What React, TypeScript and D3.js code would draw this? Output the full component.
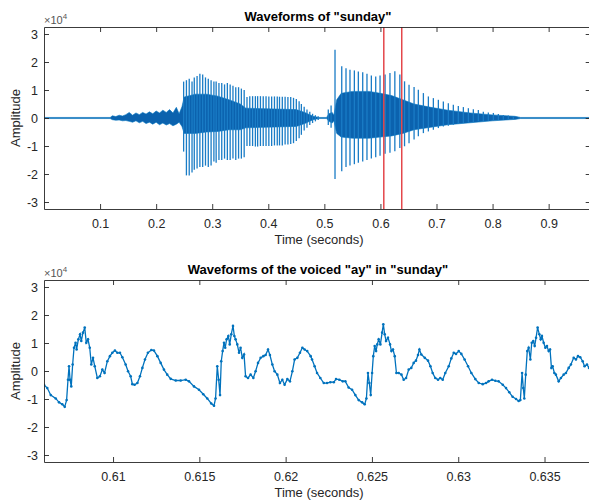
import React, { useRef, useEffect } from 'react';
import * as d3 from 'd3';

// amplitudes are in units of 1e4 (axis shows "x10^4")

// top plot: the dense recording, read as one peak-up / peak-down per glottal pulse
const pulseTime = [
  0.249, 0.254, 0.259, 0.264, 0.268, 0.273, 0.278, 0.283, 0.288, 0.293, 0.298, 0.303,
  0.307, 0.312, 0.317, 0.322, 0.327, 0.332, 0.337, 0.342, 0.347, 0.352, 0.357,
  0.362, 0.367, 0.372, 0.377, 0.381, 0.386, 0.391, 0.396, 0.401, 0.406, 0.411, 0.416,
  0.420, 0.425, 0.430, 0.435, 0.440, 0.445, 0.450, 0.455, 0.459, 0.464, 0.469, 0.474,
  0.479, 0.484, 0.489,
  0.507, 0.512, 0.519,
  0.531, 0.5386, 0.5457, 0.5535, 0.5606, 0.5684, 0.576, 0.5838, 0.5916, 0.5993, 0.6083,
  0.617, 0.6257, 0.6346, 0.643, 0.651, 0.66, 0.6676, 0.6766, 0.6855, 0.6944, 0.7033,
  0.7122, 0.7211, 0.73, 0.7389, 0.7479, 0.7568, 0.7657, 0.7746, 0.7835, 0.7924, 0.8014,
  0.8103, 0.8192, 0.8281, 0.837, 0.8459,
];
const pulseHigh = [
  1.3, 1.35, 1.4, 1.3, 1.45, 1.5, 1.58, 1.55, 1.45, 1.4, 1.35, 1.3,
  1.3, 1.25, 1.25, 1.2, 1.25, 1.2, 1.15, 1.1, 1.1, 1.05, 1.0,
  0.75, 0.78, 0.78, 0.78, 0.78, 0.78, 0.78, 0.78, 0.77, 0.77, 0.77, 0.77,
  0.76, 0.76, 0.76, 0.75, 0.75, 0.72, 0.68, 0.6, 0.5, 0.4, 0.3, 0.22,
  0.15, 0.1, 0.06,
  0.3, 0.45, 2.44,
  1.85, 1.78, 1.72, 1.7, 1.66, 1.63, 1.58, 1.52, 1.48, 1.52, 1.55,
  1.61, 1.67, 1.55, 1.31, 1.19, 1.11, 1.01, 0.89, 0.77, 0.71, 0.65,
  0.59, 0.53, 0.47, 0.43, 0.39, 0.35, 0.31, 0.29, 0.22, 0.2, 0.18,
  0.14, 0.11, 0.09, 0.06, 0.03,
];
const pulseLow = [
  -1.2, -2.05, -2.05, -1.95, -1.85, -1.8, -1.75, -1.75, -1.7, -1.75, -1.7, -1.55,
  -1.6, -1.5, -1.5, -1.45, -1.5, -1.5, -1.45, -1.5, -1.45, -1.45, -1.4,
  -1.0, -1.0, -1.0, -1.02, -1.02, -1.0, -1.0, -1.0, -1.0, -1.0, -0.98, -0.98,
  -0.98, -0.98, -0.95, -0.95, -0.93, -0.9, -0.82, -0.72, -0.6, -0.45, -0.35, -0.25,
  -0.18, -0.12, -0.07,
  -0.25, -0.35, -2.18,
  -1.9, -1.75, -1.7, -1.65, -1.6, -1.55, -1.5, -1.45, -1.4, -1.35, -1.28,
  -1.24, -1.19, -1.07, -1.01, -0.9, -0.77, -0.65, -0.54, -0.48, -0.42, -0.36,
  -0.3, -0.28, -0.24, -0.2, -0.18, -0.16, -0.14, -0.12, -0.11, -0.1, -0.08,
  -0.07, -0.06, -0.05, -0.04, -0.03,
];

// dense band between the pulses (noise, fricative, and the filled middle of voiced parts)
const coreTime = [
  0, 0.118, 0.122, 0.128, 0.134, 0.14, 0.146, 0.152, 0.158, 0.164, 0.17, 0.176, 0.182,
  0.188, 0.194, 0.2, 0.206, 0.212, 0.218, 0.224, 0.23, 0.236, 0.241, 0.246,
  0.25, 0.27, 0.29, 0.31, 0.33, 0.35, 0.36, 0.45, 0.465, 0.48, 0.49,
  0.504, 0.508, 0.514, 0.517, 0.522, 0.53, 0.55, 0.58, 0.6, 0.62, 0.64, 0.66, 0.69, 0.72,
  0.76, 0.8, 0.84, 0.85, 0.975,
];
const coreHigh = [
  0.02, 0.02, 0.08, 0.05, 0.1, 0.07, 0.12, 0.2, 0.1, 0.18, 0.12, 0.2, 0.14,
  0.22, 0.15, 0.25, 0.18, 0.28, 0.2, 0.3, 0.18, 0.38, 0.15, 0.4,
  0.75, 0.85, 0.85, 0.78, 0.65, 0.5, 0.35, 0.3, 0.2, 0.06, 0.02,
  0.02, 0.15, 0.2, 0.1, 0.65, 0.88, 0.95, 0.95, 0.88, 0.8, 0.65, 0.5, 0.38, 0.28,
  0.18, 0.11, 0.06, 0.02, 0.02,
];
const coreLow = [
  -0.02, -0.02, -0.06, -0.08, -0.07, -0.1, -0.09, -0.12, -0.15, -0.1, -0.17, -0.12, -0.2,
  -0.15, -0.22, -0.15, -0.24, -0.18, -0.25, -0.2, -0.28, -0.22, -0.15, -0.3,
  -0.55, -0.55, -0.5, -0.48, -0.42, -0.42, -0.35, -0.3, -0.2, -0.06, -0.02,
  -0.02, -0.12, -0.18, -0.1, -0.55, -0.68, -0.72, -0.72, -0.68, -0.64, -0.55, -0.42, -0.33, -0.24,
  -0.17, -0.1, -0.05, -0.02, -0.02,
];

// bottom plot: the voiced "ay" segment
const voicedTime = [
  0.606, 0.60619, 0.60639, 0.60668, 0.60687, 0.60706, 0.6072, 0.60731, 0.60739, 0.60745,
  0.60751, 0.60758, 0.60766, 0.60774, 0.60783, 0.60789, 0.60799, 0.60809, 0.60816, 0.60826,
  0.60836, 0.60845, 0.60855, 0.60865, 0.60874, 0.60884, 0.60894, 0.60909, 0.60924, 0.60938,
  0.60951, 0.60967, 0.60982, 0.60996, 0.61011, 0.61025, 0.6104, 0.61054, 0.61073, 0.61087,
  0.61102, 0.61112, 0.61125, 0.61141, 0.61156, 0.6117, 0.61185, 0.61202, 0.61222, 0.61237,
  0.61257, 0.61276, 0.61295, 0.61314, 0.61334, 0.61363, 0.61392, 0.61421, 0.6144, 0.61469,
  0.61498, 0.61523, 0.61546, 0.61569, 0.61585, 0.61594, 0.61604, 0.61612, 0.6162, 0.61627,
  0.61635, 0.61643, 0.6165, 0.61658, 0.61668, 0.61676, 0.61685, 0.61695, 0.61703, 0.6171,
  0.6172, 0.6173, 0.61739, 0.61749, 0.61759, 0.61768, 0.61782, 0.61797, 0.61813, 0.61826,
  0.6184, 0.61855, 0.61871, 0.61884, 0.61898, 0.61909, 0.61923, 0.61936, 0.61952, 0.61967,
  0.61981, 0.61994, 0.6201, 0.62025, 0.62039, 0.62052, 0.62068, 0.62083, 0.62097, 0.6211,
  0.62125, 0.62145, 0.62153, 0.62168, 0.62182, 0.62201, 0.62221, 0.6224, 0.62259, 0.62279,
  0.62292, 0.62311, 0.62331, 0.62346, 0.62365, 0.62385, 0.62404, 0.62423, 0.62443, 0.62458,
  0.62468, 0.62477, 0.62485, 0.62493, 0.62501, 0.62508, 0.62516, 0.62524, 0.62531, 0.62539,
  0.62549, 0.62559, 0.62566, 0.62574, 0.62582, 0.62593, 0.62605, 0.62613, 0.62622, 0.62632,
  0.62642, 0.62655, 0.62671, 0.62684, 0.62698, 0.62713, 0.62728, 0.62742, 0.62755, 0.62767,
  0.62775, 0.62786, 0.62806, 0.62825, 0.62839, 0.62852, 0.62867, 0.62883, 0.62896, 0.6291,
  0.62925, 0.62945, 0.6296, 0.62974, 0.62987, 0.63003, 0.63018, 0.63037, 0.63057, 0.63076,
  0.63099, 0.63119, 0.63142, 0.63161, 0.63176, 0.63196, 0.63215, 0.63234, 0.63258, 0.63277,
  0.63296, 0.63315, 0.63335, 0.6335, 0.6336, 0.6337, 0.63377, 0.63383, 0.63391, 0.634,
  0.63408, 0.63418, 0.63426, 0.63435, 0.63443, 0.63451, 0.6346, 0.6347, 0.63478, 0.63485,
  0.63495, 0.63505, 0.63514, 0.63524, 0.63532, 0.6354, 0.63547, 0.63557, 0.63566, 0.63582,
  0.63595, 0.63611, 0.63624, 0.6364, 0.63653, 0.63669, 0.63682, 0.63694, 0.63707, 0.63721,
  0.63732, 0.63746, 0.63758,
];
const voicedAmp = [
  -0.49, -0.61, -0.86, -0.98, -1.12, -1.19, -1.28, -1.04, -0.31, 0.17,
  -0.31, -0.55, 0.23, 0.83, 1.01, 0.77, 1.13, 1.31, 1.07, 1.37,
  1.55, 1.01, 1.13, 0.83, 0.23, 0.47, 0.17, -0.25, -0.19, 0.05,
  -0.07, 0.35, 0.53, 0.65, 0.73, 0.65, 0.65, 0.49, 0.23, -0.01,
  -0.19, -0.47, -0.49, -0.43, -0.19, 0.11, 0.41, 0.65, 0.75, 0.73,
  0.53, 0.29, 0.05, -0.13, -0.28, -0.34, -0.34, -0.31, -0.37, -0.55,
  -0.67, -0.83, -0.98, -1.16, -1.24, -0.98, 0.17, -0.31, -0.86, 0.35,
  0.71, 1.01, 0.83, 1.13, 1.25, 0.95, 1.31, 1.61, 1.25, 1.13,
  0.95, 0.65, 0.83, 0.47, 0.59, -0.19, -0.25, -0.13, -0.25, -0.01,
  0.29, 0.47, 0.53, 0.57, 0.77, 0.57, 0.23, -0.01, -0.13, -0.43,
  -0.31, -0.49, -0.29, -0.37, -0.01, 0.41, 0.47, 0.65, 0.83, 0.77,
  0.71, 0.53, 0.41, 0.17, -0.07, -0.25, -0.43, -0.43, -0.4, -0.4,
  -0.29, -0.31, -0.37, -0.37, -0.59, -0.67, -0.86, -1.04, -1.12, -1.19,
  -0.98, -0.07, -0.43, -0.86, -0.07, 0.53, 0.89, 0.71, 0.95, 1.13,
  0.95, 1.37, 1.67, 1.31, 1.07, 1.19, 0.95, 0.71, 0.77, 0.53,
  -0.07, -0.07, -0.13, -0.31, -0.25, 0.05, 0.11, 0.29, 0.37, 0.57,
  0.77, 0.59, 0.47, 0.37, 0.17, -0.07, -0.25, -0.31, -0.25, -0.31,
  -0.07, 0.17, 0.45, 0.65, 0.61, 0.71, 0.61, 0.41, 0.17, -0.07,
  -0.29, -0.43, -0.47, -0.43, -0.37, -0.31, -0.35, -0.37, -0.49, -0.61,
  -0.76, -0.92, -1.0, -1.07, -1.04, -0.07, -0.61, -0.98, -0.13, 0.71,
  0.83, 0.41, 1.01, 1.07, 0.89, 1.19, 1.55, 1.31, 1.13, 1.25,
  1.01, 0.83, 0.89, 0.71, 0.77, 0.11, 0.17, -0.07, -0.13, -0.37,
  -0.25, -0.13, -0.07, 0.11, 0.23, 0.47, 0.41, 0.53, 0.49, 0.35,
  0.17, 0.23, 0.11,
];

const fullTicks = [0.1, 0.2, 0.3, 0.4, 0.5, 0.6, 0.7, 0.8, 0.9];
const voicedTicks = [0.61, 0.615, 0.62, 0.625, 0.63, 0.635];
const ampTicks = [-3, -2, -1, 0, 1, 2, 3];
const selection = [0.606, 0.638];

const FONT = '"Liberation Sans", Arial, Helvetica, sans-serif';
const INK = '#262626';
const BLUE = '#0072BD';

const App = () => {
  const svgRef = useRef(null);

  useEffect(() => {
    const svg = d3.select(svgRef.current);
    svg.selectAll('*').remove();

    const width = 589;
    const height = 501;
    svg.attr('width', width).attr('height', height);

    // draws box, ticks, labels for one axes
    const frame = (x, y, xticks, top, title, clipId) => {
      const [x0, x1] = x.range();
      const [bottom, topY] = y.range();

      svg.append('clipPath').attr('id', clipId)
        .append('rect').attr('x', x0).attr('y', topY).attr('width', x1 - x0).attr('height', bottom - topY);

      const style = (g) => {
        g.attr('font-family', FONT).attr('font-size', 12.5);
        g.select('.domain').attr('stroke', INK).attr('stroke-width', 0.9);
        g.selectAll('.tick line').attr('stroke', INK).attr('stroke-width', 0.9);
        g.selectAll('.tick text').attr('fill', INK);
      };

      svg.append('g')
        .attr('transform', `translate(0,${bottom})`)
        .call(d3.axisBottom(x).tickValues(xticks).tickSize(-5).tickSizeOuter(0).tickPadding(10).tickFormat((d) => String(d)))
        .call(style);
      svg.append('g')
        .attr('transform', `translate(0,${topY})`)
        .call(d3.axisTop(x).tickValues(xticks).tickSize(-5).tickSizeOuter(0).tickFormat(() => ''))
        .call(style);
      svg.append('g')
        .attr('transform', `translate(${x0},0)`)
        .call(d3.axisLeft(y).tickValues(ampTicks).tickSize(-5).tickSizeOuter(0).tickPadding(6).tickFormat((d) => String(d)))
        .call(style);
      svg.append('g')
        .attr('transform', `translate(${x1},0)`)
        .call(d3.axisRight(y).tickValues(ampTicks).tickSize(-5).tickSizeOuter(0).tickFormat(() => ''))
        .call(style);

      // title
      svg.append('text')
        .attr('x', 318).attr('y', top - 6)
        .attr('text-anchor', 'middle')
        .attr('font-family', FONT).attr('font-size', 13).attr('font-weight', 'bold')
        .attr('fill', '#000')
        .text(title);

      // x10^4 exponent
      const ex = svg.append('text')
        .attr('x', x0).attr('y', top - 3.5)
        .attr('font-family', FONT).attr('font-size', 11).attr('fill', '#555');
      ex.append('tspan').text('\u00d710');
      ex.append('tspan').attr('font-size', 8).attr('dy', -5).text('4');

      // y label
      svg.append('text')
        .attr('transform', `translate(20,${(bottom + topY) / 2}) rotate(-90)`)
        .attr('text-anchor', 'middle')
        .attr('font-family', FONT).attr('font-size', 13).attr('fill', INK)
        .text('Amplitude');

      // x label
      svg.append('text')
        .attr('x', 319).attr('y', bottom + 35)
        .attr('text-anchor', 'middle')
        .attr('font-family', FONT).attr('font-size', 13).attr('fill', INK)
        .text('Time (seconds)');
    };

    // ---- top: whole word ----
    const xFull = d3.scaleLinear().domain([0, 0.975]).range([44, 590.7]);
    const yFull = d3.scaleLinear().domain([-3.25, 3.25]).range([209, 27]);

    const g1 = svg.append('g').attr('clip-path', 'url(#clipTop)');
    const core = d3.area()
      .x((i) => xFull(coreTime[i]))
      .y0((i) => yFull(coreLow[i]))
      .y1((i) => yFull(coreHigh[i]));
    g1.append('path')
      .attr('d', core(d3.range(coreTime.length)))
      .attr('fill', '#0b62ae')
      .attr('stroke', BLUE)
      .attr('stroke-width', 0.6);

    g1.selectAll('line.pulse')
      .data(d3.range(pulseTime.length))
      .enter()
      .append('line')
      .attr('class', 'pulse')
      .attr('x1', (i) => xFull(pulseTime[i]))
      .attr('x2', (i) => xFull(pulseTime[i]))
      .attr('y1', (i) => yFull(pulseLow[i]))
      .attr('y2', (i) => yFull(pulseHigh[i]))
      .attr('stroke', '#1a7cc6')
      .attr('stroke-width', 1.3);

    g1.selectAll('line.sel')
      .data(selection)
      .enter()
      .append('line')
      .attr('class', 'sel')
      .attr('x1', (d) => xFull(d))
      .attr('x2', (d) => xFull(d))
      .attr('y1', yFull.range()[0])
      .attr('y2', yFull.range()[1])
      .attr('stroke', '#e4474b')
      .attr('stroke-width', 1.5);

    frame(xFull, yFull, fullTicks, 27, 'Waveforms of "sunday"', 'clipTop');

    // ---- bottom: voiced "ay" ----
    const xZoom = d3.scaleLinear().domain(selection).range([44, 596.3]);
    const yZoom = d3.scaleLinear().domain([-3.25, 3.25]).range([462, 280]);

    const g2 = svg.append('g').attr('clip-path', 'url(#clipBottom)');
    const line = d3.line()
      .x((i) => xZoom(voicedTime[i]))
      .y((i) => yZoom(voicedAmp[i]));
    g2.append('path')
      .attr('d', line(d3.range(voicedTime.length)))
      .attr('fill', 'none')
      .attr('stroke', BLUE)
      .attr('stroke-width', 1.3);
    g2.selectAll('circle')
      .data(d3.range(voicedTime.length))
      .enter()
      .append('circle')
      .attr('cx', (i) => xZoom(voicedTime[i]))
      .attr('cy', (i) => yZoom(voicedAmp[i]))
      .attr('r', 1.3)
      .attr('fill', BLUE);

    frame(xZoom, yZoom, voicedTicks, 280, 'Waveforms of the voiced "ay" in "sunday"', 'clipBottom');
  }, []);

  return (
    <svg
      ref={svgRef}
      style={{ position: 'absolute', left: 0, top: 0, background: '#fff' }}
    ></svg>
  );
};

export default App;
